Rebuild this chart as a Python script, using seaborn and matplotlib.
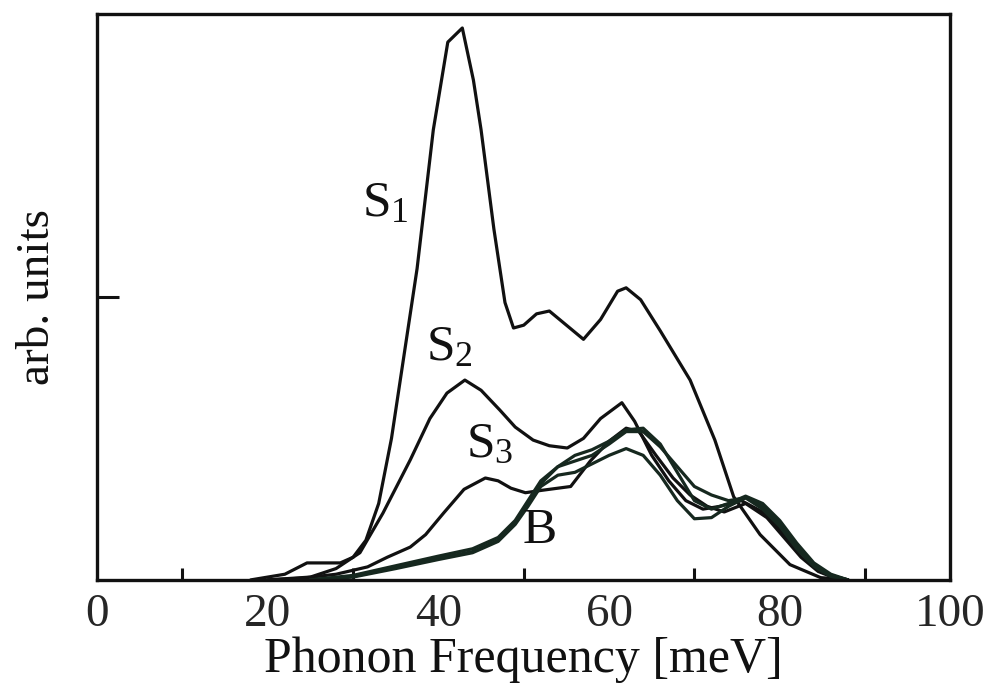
import matplotlib
matplotlib.use("Agg")
import matplotlib.pyplot as plt
import seaborn as sns
import pandas as pd

# ---------------- data ----------------
s1_x = [18, 22, 24.6, 28.5, 30, 31.5, 33, 34.5, 36, 37.5, 39.4, 41.1, 42.8, 44.1, 45, 46.5, 47.8, 48.8,
        50, 51.5, 53, 55, 57, 59, 61, 62, 63.7, 66, 69.5, 72.4, 74.6, 77.7, 81.2, 84.8, 88]
s1_y = [0, 0.01, 0.03, 0.03, 0.04, 0.07, 0.135, 0.25, 0.4, 0.55, 0.795, 0.95, 0.975, 0.883, 0.795, 0.62,
        0.49, 0.445, 0.45, 0.47, 0.475, 0.45, 0.425, 0.46, 0.51, 0.516, 0.495, 0.44, 0.353, 0.247, 0.147,
        0.08, 0.027, 0.004, 0]

s2_x = [20, 25, 28, 30.8, 33.5, 36.7, 39, 41, 43.1, 45, 47.2, 49, 51.1, 53, 55.1, 57, 59, 61.5, 63, 65,
        67, 69, 71, 73, 75.5, 78, 80, 82, 84, 86, 88]
s2_y = [0, 0.005, 0.02, 0.048, 0.118, 0.212, 0.285, 0.33, 0.353, 0.335, 0.30, 0.27, 0.247, 0.237, 0.233,
        0.25, 0.285, 0.313, 0.28, 0.22, 0.175, 0.14, 0.125, 0.13, 0.14, 0.12, 0.09, 0.055, 0.025, 0.008, 0]

s3_x = [20, 24, 28, 31.7, 34, 36.7, 38.5, 40.6, 43, 45.5, 47, 48.5, 50.2, 52, 55.5, 57.8, 60, 62, 63.5,
        65.5, 67.5, 69.5, 71.5, 73.5, 76, 78.5, 80.5, 82.5, 84.5, 87]
s3_y = [0, 0.003, 0.01, 0.023, 0.04, 0.058, 0.08, 0.118, 0.16, 0.18, 0.175, 0.162, 0.154, 0.158, 0.165,
        0.21, 0.245, 0.268, 0.262, 0.22, 0.18, 0.15, 0.13, 0.12, 0.135, 0.11, 0.075, 0.04, 0.015, 0]

b_x = [25, 30, 35, 40, 44, 47, 49, 50.5, 52, 54, 56, 58, 60, 62, 64, 66, 68, 70, 72, 74, 76, 78, 80, 82,
       84, 86, 88]
b1_y = [0, 0.008, 0.025, 0.042, 0.055, 0.075, 0.105, 0.14, 0.175, 0.2, 0.21, 0.22, 0.24, 0.262, 0.262,
        0.235, 0.2, 0.165, 0.15, 0.14, 0.145, 0.13, 0.1, 0.06, 0.028, 0.008, 0]
b2_y = [0, 0.006, 0.022, 0.038, 0.05, 0.07, 0.1, 0.135, 0.17, 0.2, 0.22, 0.23, 0.245, 0.265, 0.268,
        0.24, 0.19, 0.14, 0.125, 0.135, 0.148, 0.135, 0.105, 0.065, 0.03, 0.01, 0]
b3_y = [0, 0.005, 0.02, 0.036, 0.048, 0.068, 0.098, 0.13, 0.165, 0.185, 0.19, 0.205, 0.22, 0.232, 0.22,
        0.185, 0.14, 0.108, 0.11, 0.13, 0.145, 0.125, 0.095, 0.055, 0.024, 0.006, 0]

x_ticks = [0, 20, 40, 60, 80, 100]
x_minor = [10, 30, 50, 70, 90]
y_ticks = [0.5]

labels = ["S$_1$", "S$_2$", "S$_3$", "B"]
label_x = [31.0, 38.6, 43.2, 49.9]
label_y = [0.642, 0.388, 0.217, 0.065]

# ---------------- build tidy frame ----------------
frames = []
for name, xs, ys in [("S1", s1_x, s1_y), ("S2", s2_x, s2_y), ("S3", s3_x, s3_y),
                     ("B", b_x, b1_y), ("B2", b_x, b2_y), ("B3", b_x, b3_y)]:
    frames.append(pd.DataFrame({"x": xs, "y": ys, "curve": name}))
df = pd.concat(frames, ignore_index=True)

# ---------------- style ----------------
sns.set_theme(style="white")
plt.rcParams["font.family"] = ["Liberation Serif", "DejaVu Serif"]
plt.rcParams["mathtext.fontset"] = "custom"
plt.rcParams["mathtext.rm"] = "Liberation Serif"
plt.rcParams["mathtext.default"] = "regular"

fig = plt.figure(figsize=(9.91, 6.92), dpi=100)
ax = fig.add_axes([0.098, 0.162, 0.861, 0.818])

palette = {"S1": "#111111", "S2": "#111111", "S3": "#111111",
           "B": "#16281f", "B2": "#16281f", "B3": "#16281f"}
sns.lineplot(data=df, x="x", y="y", hue="curve", units="curve", estimator=None, sort=False,
             palette=palette, linewidth=2.3, legend=False, ax=ax)

ax.set_xlim(0, 100)
ax.set_ylim(0, 1)
ax.set_xticks(x_ticks)
ax.set_xticks(x_minor, minor=True)
ax.set_yticks(y_ticks)
ax.set_yticklabels([])
ax.tick_params(axis="x", which="both", direction="in", length=9, width=2.2, color="#111111",
               labelsize=34, pad=10, bottom=True)
ax.tick_params(axis="x", which="major", length=0)
ax.tick_params(axis="y", direction="in", length=16, width=2.2, color="#111111", left=True)
for sp in ax.spines.values():
    sp.set_linewidth(2.4)
    sp.set_color("#111111")

ax.set_xlabel("Phonon Frequency [meV]", fontsize=36, labelpad=0, color="#111111")
ax.set_ylabel("arb. units", fontsize=34, labelpad=24, color="#111111")

for t, lx, ly in zip(labels, label_x, label_y):
    ax.text(lx, ly, t, fontsize=37, ha="left", va="baseline", color="#111111")

fig.savefig("out.png", dpi=100)
